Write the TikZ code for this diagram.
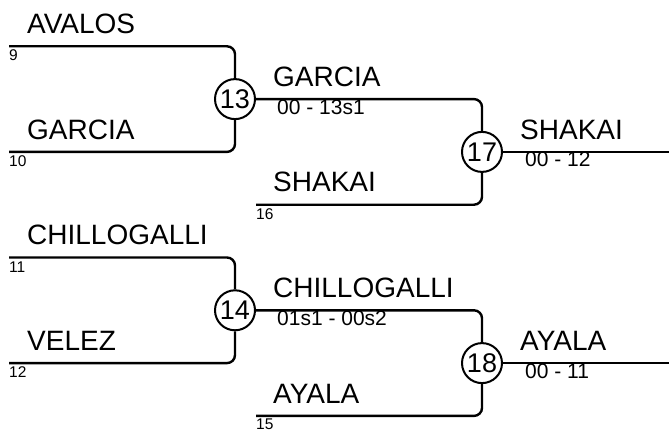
\documentclass[tikz,border=0pt]{standalone}
\usepackage{fontspec}
\setmainfont{Liberation Sans}
\begin{document}
\begin{tikzpicture}[x=1pt,y=1pt]
\tikzset{
 wire/.style={line width=2.4pt, rounded corners=8pt},
 game/.style={circle, draw, line width=2pt, minimum size=40pt, inner sep=0pt, fill=white, font=\fontsize{27}{27}\selectfont},
 pname/.style={anchor=base west, inner sep=0pt, font=\fontsize{28}{28}\selectfont},
 seed/.style={anchor=base west, inner sep=0pt, font=\fontsize{15.5}{15.5}\selectfont},
 score/.style={anchor=base west, inner sep=0pt, font=\fontsize{21}{21}\selectfont},
}
\useasboundingbox (0,0) rectangle (669,432);
% games
\node[game] (m13) at (235,332.9) {13};
\node[game] (m14) at (235,121.7) {14};
\node[game] (m17) at (482,280.1) {17};
\node[game] (m18) at (482,68.9) {18};
% line starts
\coordinate (s9) at (9,385.7);
\coordinate (s10) at (9,280.1);
\coordinate (s11) at (9,174.5);
\coordinate (s12) at (9,68.9);
\coordinate (s16) at (256,227.3);
\coordinate (s15) at (256,16.1);
\coordinate (e17) at (669,280.1);
\coordinate (e18) at (669,68.9);
% wires
\draw[wire] (s9) -| (m13.north);
\draw[wire] (s10) -| (m13.south);
\draw[wire] (s11) -| (m14.north);
\draw[wire] (s12) -| (m14.south);
\draw[wire] (m13.east) -| (m17.north);
\draw[wire] (s16) -| (m17.south);
\draw[wire] (m14.east) -| (m18.north);
\draw[wire] (s15) -| (m18.south);
\draw[wire] (m17.east) -- (e17);
\draw[wire] (m18.east) -- (e18);
% round 1 names and seeds
\node[pname] (n9) at (27,398.5) {AVALOS};
\node[seed] (q9) at (9,371.2) {9};
\node[pname] (n10) at (27,292.9) {GARCIA};
\node[seed] (q10) at (9,265.6) {10};
\node[pname] (n11) at (27,187.3) {CHILLOGALLI};
\node[seed] (q11) at (9,160.0) {11};
\node[pname] (n12) at (27,81.7) {VELEZ};
\node[seed] (q12) at (9,54.4) {12};
% round 2
\node[pname] (w13) at (273,345.7) {GARCIA};
\node[score] (r13) at (277,317.9) {00 - 13s1};
\node[pname] (n16) at (273,240.1) {SHAKAI};
\node[seed] (q16) at (256,212.8) {16};
\node[pname] (w14) at (273,134.5) {CHILLOGALLI};
\node[score] (r14) at (277,106.7) {01s1 - 00s2};
\node[pname] (n15) at (273,28.9) {AYALA};
\node[seed] (q15) at (256,2.1) {15};
% round 3
\node[pname] (w17) at (520,292.4) {SHAKAI};
\node[score] (r17) at (525,265.1) {00 - 12};
\node[pname] (w18) at (520,81.2) {AYALA};
\node[score] (r18) at (525,53.9) {00 - 11};
\end{tikzpicture}
\end{document}
